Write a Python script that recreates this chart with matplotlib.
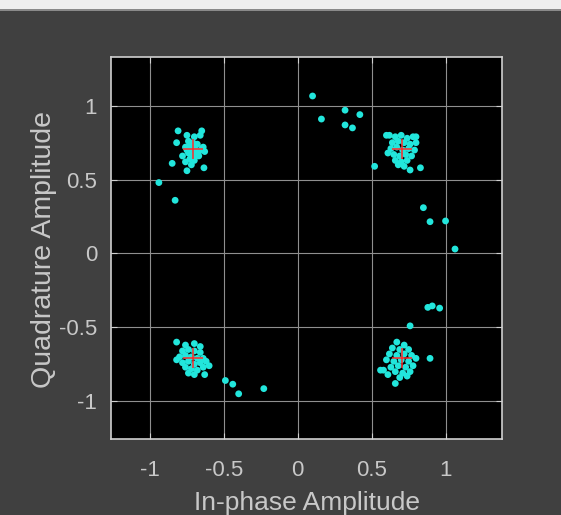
import matplotlib
matplotlib.use('Agg')
import matplotlib.pyplot as plt
from matplotlib.patches import Rectangle

# received symbols, one list per constellation point
tl_x = [-0.75, -0.70, -0.66, -0.74, -0.71, -0.68, -0.76, -0.72, -0.69, -0.65, -0.63, -0.74, -0.71,
        -0.67, -0.73, -0.70, -0.76, -0.72, -0.69, -0.64, -0.78, -0.73, -0.70, -0.67, -0.75,
        -0.81, -0.65, -0.82, -0.85, -0.635, -0.75, -0.94, -0.83]
tl_y = [0.80, 0.79, 0.80, 0.76, 0.75, 0.74, 0.72, 0.71, 0.70, 0.71, 0.69, 0.68, 0.67,
        0.66, 0.64, 0.63, 0.62, 0.60, 0.66, 0.72, 0.66, 0.73, 0.72, 0.69, 0.70,
        0.83, 0.83, 0.75, 0.61, 0.58, 0.56, 0.48, 0.36]

tr_x = [0.62, 0.66, 0.70, 0.74, 0.78, 0.64, 0.68, 0.72, 0.76, 0.80, 0.63, 0.67, 0.71,
        0.75, 0.79, 0.65, 0.69, 0.73, 0.77, 0.66, 0.70, 0.74, 0.68, 0.72, 0.61,
        0.60, 0.80, 0.52, 0.76, 0.83]
tr_y = [0.80, 0.79, 0.80, 0.78, 0.79, 0.75, 0.76, 0.75, 0.74, 0.75, 0.71, 0.72, 0.70,
        0.71, 0.70, 0.67, 0.66, 0.67, 0.66, 0.63, 0.62, 0.63, 0.60, 0.59, 0.68,
        0.80, 0.79, 0.59, 0.565, 0.58]

bl_x = [-0.76, -0.70, -0.66, -0.78, -0.74, -0.70, -0.66, -0.80, -0.76, -0.72, -0.68, -0.64, -0.78,
        -0.74, -0.70, -0.66, -0.62, -0.76, -0.72, -0.68, -0.64, -0.74, -0.70, -0.82, -0.60,
        -0.82, -0.63]
bl_y = [-0.62, -0.61, -0.63, -0.66, -0.65, -0.66, -0.67, -0.70, -0.69, -0.70, -0.71, -0.71, -0.74,
        -0.73, -0.75, -0.74, -0.73, -0.77, -0.78, -0.79, -0.77, -0.81, -0.82, -0.72, -0.76,
        -0.60, -0.82]

br_x = [0.67, 0.72, 0.64, 0.69, 0.75, 0.62, 0.67, 0.72, 0.77, 0.60, 0.65, 0.70, 0.75,
        0.80, 0.63, 0.68, 0.73, 0.78, 0.66, 0.71, 0.76, 0.69, 0.74, 0.58, 0.61,
        0.895, 0.66, 0.56, 0.76]
br_y = [-0.60, -0.62, -0.64, -0.65, -0.65, -0.68, -0.69, -0.68, -0.69, -0.72, -0.73, -0.72, -0.73,
        -0.71, -0.77, -0.76, -0.77, -0.76, -0.80, -0.81, -0.80, -0.84, -0.83, -0.79, -0.82,
        -0.71, -0.88, -0.79, -0.49]

# symbols caught between two constellation points
mid_x = [0.10, 0.16, 0.32, 0.42, 0.32, 0.37,
         0.85, 0.895, 1.00, 1.064,
         0.88, 0.91, 0.96,
         -0.49, -0.44, -0.40, -0.23]
mid_y = [1.066, 0.91, 0.97, 0.94, 0.87, 0.85,
         0.31, 0.215, 0.22, 0.03,
         -0.365, -0.355, -0.37,
         -0.86, -0.885, -0.95, -0.915]

# reference constellation (QPSK)
ref_x = [0.7071, -0.7071, -0.7071, 0.7071]
ref_y = [0.7071, 0.7071, -0.7071, -0.7071]

ticks = [-1, -0.5, 0, 0.5, 1]
tick_labels = ['-1', '-0.5', '0', '0.5', '1']

txt = '#c8c8c8'
plt.rcParams['font.family'] = ['Liberation Sans', 'DejaVu Sans']

fig = plt.figure(figsize=(5.61, 5.15), dpi=100, facecolor='#404040')
# light window strip at the top
fig.patches.append(Rectangle((0, 1 - 9.5 / 515), 1, 9.5 / 515, transform=fig.transFigure,
                             facecolor='#efefef', edgecolor='none', zorder=0))
fig.patches.append(Rectangle((0, 1 - 11 / 515), 1, 1.5 / 515, transform=fig.transFigure,
                             facecolor='#8a8a8a', edgecolor='none', zorder=0))

ax = fig.add_axes([111 / 561, 76 / 515, 391 / 561, 382 / 515])
ax.set_facecolor('black')

for xs, ys in [(tl_x, tl_y), (tr_x, tr_y), (bl_x, bl_y), (br_x, br_y), (mid_x, mid_y)]:
    ax.scatter(xs, ys, s=24, color='#22e6dc', edgecolors='none', zorder=3)
ax.plot(ref_x, ref_y, '+', color='#ff2a2a', markersize=14, markeredgewidth=1.1, zorder=4)

ax.set_xlim(-1.264, 1.382)
ax.set_ylim(-1.256, 1.33)
ax.set_xticks(ticks)
ax.set_xticklabels(tick_labels)
ax.set_yticks(ticks)
ax.set_yticklabels(tick_labels)
ax.grid(True, color='#8f8f8f', linewidth=0.8)
ax.set_axisbelow(True)
ax.tick_params(direction='in', length=4, width=0.8, color='#d0d0d0', labelcolor=txt,
               labelsize=16, top=True, right=True)
ax.tick_params(axis='x', pad=15)
ax.tick_params(axis='y', pad=10)
for sp in ax.spines.values():
    sp.set_color('#d0d0d0')
    sp.set_linewidth(1.2)

ax.set_xlabel('In-phase Amplitude', color=txt, fontsize=19)
ax.set_ylabel('Quadrature Amplitude', color=txt, fontsize=20.5)
ax.xaxis.set_label_coords(0.5, -0.137)
ax.yaxis.set_label_coords(-0.139, 0.495)

fig.savefig('out.png', dpi=100, facecolor=fig.get_facecolor())
